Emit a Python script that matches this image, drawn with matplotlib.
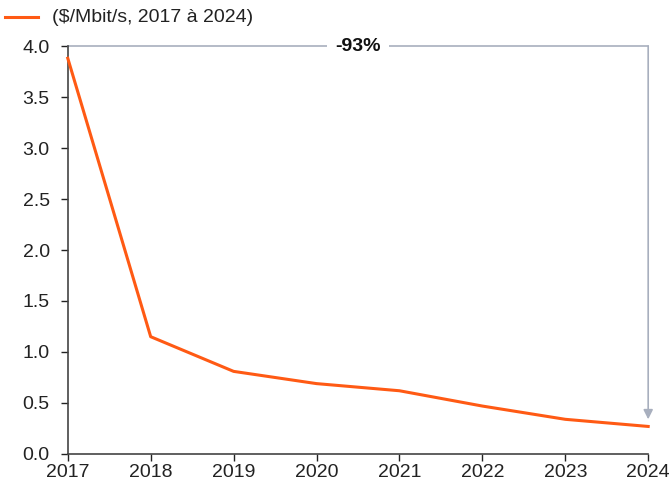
import matplotlib
matplotlib.use("Agg")
import matplotlib.pyplot as plt

years = [2017, 2018, 2019, 2020, 2021, 2022, 2023, 2024]
prices = [3.88, 1.15, 0.81, 0.69, 0.62, 0.47, 0.34, 0.27]
yticks = [0.0, 0.5, 1.0, 1.5, 2.0, 2.5, 3.0, 3.5, 4.0]
legend_label = "($/Mbit/s, 2017 à 2024)"
change_label = "-93%"

plt.rcParams['font.family'] = ['Liberation Sans', 'DejaVu Sans']
fs = 14

fig = plt.figure(figsize=(6.71, 4.88), dpi=100)
ax = fig.add_axes([0.101, 0.0697, 0.865, 0.836])

orange = '#FF5A14'
grey = '#A8AFBE'
ax.plot(years, prices, color=orange, lw=2.2, clip_on=False, zorder=3)

ax.set_xlim(years[0], years[-1])
ax.set_ylim(0, 4.0)
ax.set_xticks(years)
ax.set_yticks(yticks)
ax.set_yticklabels([f"{v:.1f}" for v in yticks])
ax.tick_params(axis='both', labelsize=fs, colors='#222222', direction='out', length=5, width=1)
ax.tick_params(axis='x', pad=2)
ax.tick_params(axis='y', pad=8)
for s in ['top', 'right']:
    ax.spines[s].set_visible(False)
for s in ['left', 'bottom']:
    ax.spines[s].set_color('#444444')
    ax.spines[s].set_linewidth(1.2)

# bracket annotation
top = yticks[-1]
ax.plot([years[0], years[-1]], [top, top], color=grey, lw=1.2, clip_on=False, zorder=2)
ax.annotate('', xy=(years[-1], prices[-1] + 0.07), xytext=(years[-1], top),
            arrowprops=dict(arrowstyle='-|>', color=grey, lw=1.2, mutation_scale=14,
                            shrinkA=0, shrinkB=0), annotation_clip=False)
ax.text(2020.5, top, change_label, ha='center', va='center', fontsize=fs, fontweight='bold',
        color='#111111', bbox=dict(facecolor='white', edgecolor='none', pad=6), zorder=4)

# legend
fig.lines.append(plt.Line2D([5/671, 38/671], [1 - 17/488, 1 - 17/488], color=orange, lw=2.2,
                            transform=fig.transFigure))
fig.text(52/671, 1 - 17/488, legend_label, ha='left', va='center', fontsize=fs, color='#222222')

fig.savefig('out.png', dpi=100)
